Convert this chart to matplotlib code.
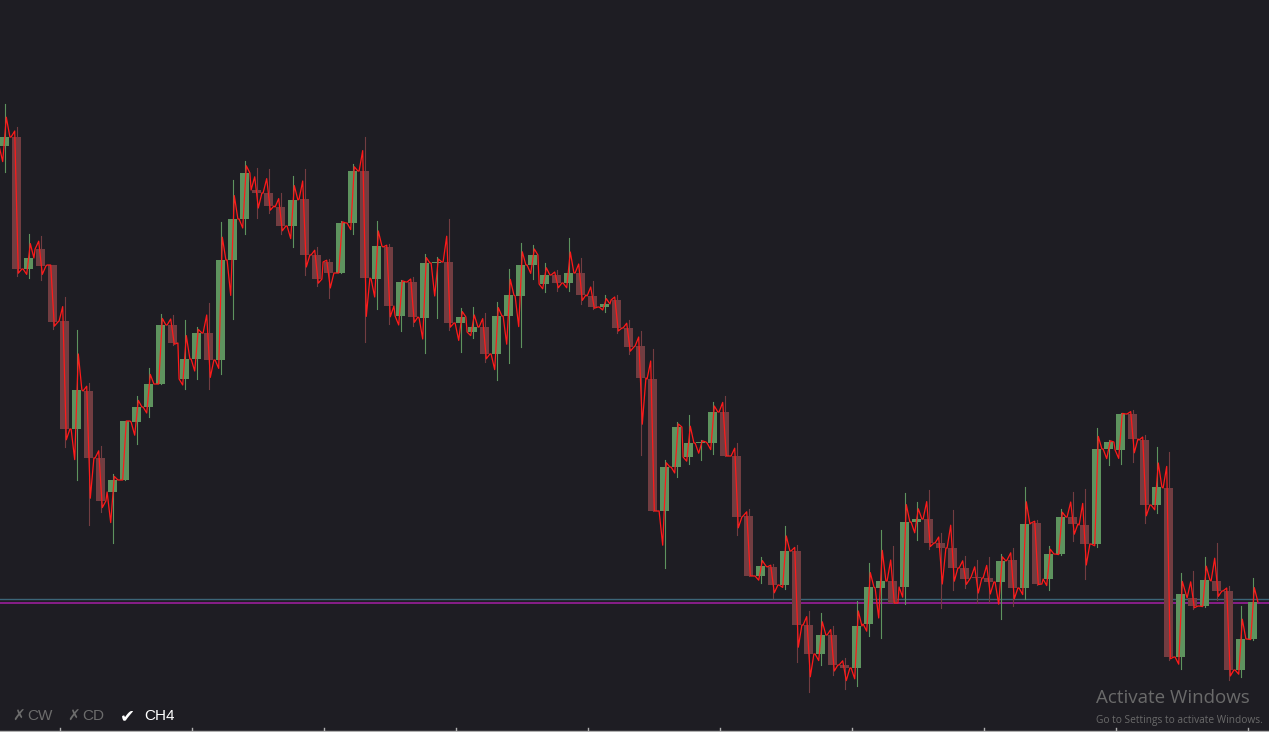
import matplotlib
matplotlib.use("Agg")
import matplotlib.pyplot as plt
from matplotlib.patches import Rectangle

# Candle readings (screen-level units, converted to price = 732 - level)
direction = list("GRGRRRGRRG" "GGGGRGGRGG" "GRRRGRRRGG" "RGRGRGGRGG" "RGGGGGRGRR"
                 "GRRRRGGGGG" "RRRGRGRRGR" "RGGGRGGRRR" "RRRGRGRGGR" "RGGGRRGRGR" "GRRGG")
body_top = [137,137,258,249,265,321,390,391,458,480,
            421,407,384,325,325,359,333,333,260,219,
            173,190,193,207,200,199,255,262,223,171,
            171,246,247,282,282,263,262,262,317,327,
            327,316,295,265,255,275,275,273,273,296,
            304,300,328,346,379,467,427,443,442,412,
            412,456,516,566,567,551,551,625,635,635,
            665,626,587,581,581,522,519,519,543,548,
            568,577,578,561,560,524,523,554,517,517,
            525,449,442,414,414,440,487,488,594,598,
            580,581,591,639,602]
body_bot = [146,269,269,266,322,429,429,458,501,492,
            480,422,407,384,343,379,359,360,360,260,
            219,193,206,226,226,255,279,273,273,223,
            278,279,306,316,317,318,263,323,323,332,
            354,354,316,296,265,284,283,283,295,307,
            307,328,347,378,511,511,467,457,443,443,
            456,517,576,576,585,585,625,654,654,665,
            668,668,624,588,603,587,522,543,548,568,
            579,578,582,582,588,588,584,579,554,524,
            544,544,449,450,439,505,505,657,657,606,
            606,591,670,670,639]
wick_hi = [104,127,234,236,265,297,330,383,446,474,
           421,396,368,314,315,320,327,303,222,180,
           161,168,169,193,176,169,247,259,221,164,
           137,221,244,280,277,254,257,219,308,307,
           313,302,269,243,245,263,270,238,258,281,
           295,295,320,331,349,460,422,415,440,402,
           396,443,509,557,564,526,545,611,613,626,
           658,601,563,530,546,493,502,490,533,510,
           556,560,557,554,548,487,520,546,509,492,
           489,428,440,413,410,435,447,452,573,571,
           557,543,586,606,578]
wick_lo = [172,276,278,280,329,447,480,525,512,543,
           480,444,417,384,345,389,379,389,374,319,
           234,218,213,234,247,275,286,298,273,234,
           342,309,324,331,326,353,318,330,352,338,
           362,380,363,347,279,292,291,291,304,309,
           312,333,354,455,511,568,477,464,460,454,
           456,535,576,583,598,589,662,692,665,675,
           689,686,636,638,603,604,540,549,608,590,
           588,603,602,619,606,599,585,590,555,541,
           579,547,465,464,462,523,513,660,669,609,
           607,600,680,677,640]

level_to_price = lambda v: 732 - v
opens, closes, highs, lows = [], [], [], []
for d, t, b, h, l in zip(direction, body_top, body_bot, wick_hi, wick_lo):
    if d == "G":
        opens.append(level_to_price(b)); closes.append(level_to_price(t))
    else:
        opens.append(level_to_price(t)); closes.append(level_to_price(b))
    highs.append(level_to_price(h)); lows.append(level_to_price(l))

level_lines = [level_to_price(599), level_to_price(603)]

BG = "#1e1d23"
GREEN = "#5e935e"
RED = "#723d41"

fig = plt.figure(figsize=(12.69, 7.32), dpi=100, facecolor=BG)
ax = fig.add_axes([0, 0, 1, 1], facecolor=BG)
n = len(opens)
ax.set_xlim(-0.375, -0.375 + 1269 / 12)
ax.set_ylim(0, 732)
for s in ax.spines.values():
    s.set_visible(False)
ax.set_xticks([]); ax.set_yticks([])

for i in range(n):
    o, c, h, l = opens[i], closes[i], highs[i], lows[i]
    col = GREEN if c >= o else RED
    ax.plot([i, i], [l, h], color=col, lw=0.8, zorder=2)
    ax.add_patch(Rectangle((i - 0.375, min(o, c)), 0.75, max(abs(c - o), 1.5),
                           facecolor=col, edgecolor="none", zorder=3))

# fine line through each candle's path
xs, ys = [], []
for i in range(n):
    o, c, h, l = opens[i], closes[i], highs[i], lows[i]
    if c >= o:
        pts = [o, o + 0.6 * (l - o), c + 0.6 * (h - c), c]
    else:
        pts = [o, o + 0.6 * (h - o), c + 0.6 * (l - c), c]
    for j, p in enumerate(pts):
        xs.append(i - 0.45 + 0.3 * j)
        ys.append(p)
ax.plot(xs, ys, color="#ff1a1a", lw=0.9, zorder=4)

ax.axhline(level_lines[0], color="#3c6578", lw=1.0, zorder=1)
ax.axhline(level_lines[1], color="#9a1f9a", lw=1.2, zorder=1)

# bottom axis line with ticks
ax.axhline(level_to_price(730.5), color="#b0b0b0", lw=1.0, zorder=5)
for k in range(5, n, 11):
    ax.plot([k - 0.375, k - 0.375], [level_to_price(730.5), level_to_price(727.5)],
            color="#b0b0b0", lw=1.0, zorder=5)

fam = ["Liberation Sans", "DejaVu Sans"]
fig.text(12 / 1269, 1 - 716 / 732, "✗", color="#6c6c6c", fontsize=11, va="center", family="DejaVu Sans")
fig.text(27 / 1269, 1 - 716 / 732, "CW", color="#6c6c6c", fontsize=11, va="center", family=fam)
fig.text(67 / 1269, 1 - 716 / 732, "✗", color="#6c6c6c", fontsize=11, va="center", family="DejaVu Sans")
fig.text(82 / 1269, 1 - 716 / 732, "CD", color="#6c6c6c", fontsize=11, va="center", family=fam)
fig.text(120 / 1269, 1 - 716 / 732, "✔", color="white", fontsize=13, va="center", family="DejaVu Sans")
fig.text(144 / 1269, 1 - 716 / 732, "CH4", color="white", fontsize=11, va="center", family=fam)
fig.text(1096 / 1269, 1 - 698 / 732, "Activate Windows", color="#6a6a6a", fontsize=13.5, va="center",
         family="Open Sans")
fig.text(1096 / 1269, 1 - 720 / 732, "Go to Settings to activate Windows.", color="#6a6a6a", fontsize=7.3,
         va="center", family="Open Sans")

fig.savefig("out.png", dpi=100, facecolor=BG)
